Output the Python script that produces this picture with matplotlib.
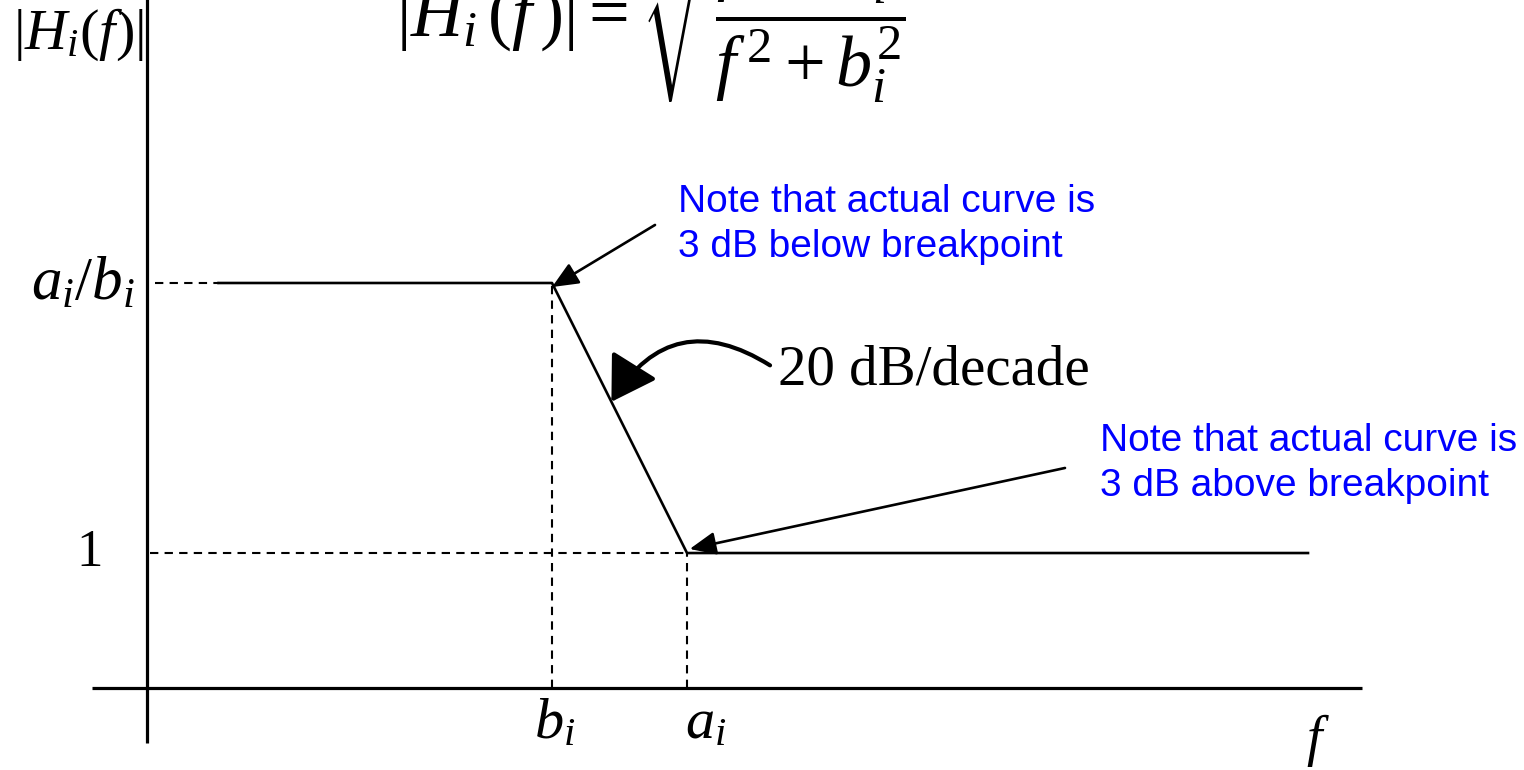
import matplotlib.pyplot as plt

plt.rcParams['mathtext.fontset'] = 'custom'
plt.rcParams['mathtext.rm'] = 'Liberation Serif'
plt.rcParams['mathtext.it'] = 'Liberation Serif:italic'

# Breakpoints and gain levels of the asymptotic magnitude plot
b_i = 3.0
a_i = 4.0
gain_low = 1.0
gain_high = 3.0
f_start = 0.53
f_end = 8.6

asym_f = [f_start, b_i, a_i, f_end]
asym_h = [gain_high, gain_high, gain_low, gain_low]

fig = plt.figure(figsize=(15.24, 7.7), dpi=100)
ax = fig.add_axes([0, 0, 1, 1])
ax.set_xlim(-1.089, 10.2)
ax.set_ylim(-0.607, 5.096)
ax.axis('off')

# axes lines
ax.plot([-0.41, 9.0], [0, 0], color='black', lw=2.3, solid_capstyle='butt')
ax.plot([0, 0], [-0.41, 5.2], color='black', lw=2.3, solid_capstyle='butt')

# asymptotes
ax.plot(asym_f, asym_h, color='black', lw=1.9)

# dashed guide lines
dash = dict(color='black', lw=1.5, dashes=(4, 3))
ax.plot([0.06, f_start], [gain_high, gain_high], **dash)
ax.plot([0.02, a_i], [gain_low, gain_low], **dash)
ax.plot([b_i, b_i], [0, gain_high], **dash)
ax.plot([a_i, a_i], [0, gain_low], **dash)

serif = 'Liberation Serif'
ax.text(-0.99, 4.84, r'$|H_i(f)|$', fontsize=42, family=serif, ha='left', va='center')
ax.text(3.8, 5.09, r'$|H_i\,(f\,)| = \sqrt{\dfrac{f^{\,2} + a_i^2}{f^{\,2} + b_i^2}}$',
        fontsize=52, family=serif, ha='center', va='center')
ax.text(-0.09, gain_high, r'$a_i/b_i$', fontsize=44, ha='right', va='center')
ax.text(-0.33, gain_low, '1', fontsize=38, family=serif, ha='right', va='center')
ax.text(b_i + 0.02, -0.25, r'$b_i$', fontsize=42, ha='center', va='center')
ax.text(a_i + 0.14, -0.25, r'$a_i$', fontsize=42, ha='center', va='center')
ax.text(8.67, -0.39, r'$f$', fontsize=40, ha='center', va='center')

# slope annotation
ax.text(4.674, 2.35, '20 dB/decade', fontsize=41, family=serif, va='center', ha='left')
ax.annotate('', xy=(3.44, 2.12), xytext=(4.615, 2.39),
            arrowprops=dict(arrowstyle='-|>,head_length=0.9,head_width=0.55',
                            mutation_scale=30, color='black', lw=3,
                            shrinkA=0, shrinkB=0,
                            connectionstyle='arc3,rad=0.5'))

# breakpoint notes
blue = '#0000ff'
note_font = dict(fontsize=28, family='Liberation Sans', color=blue,
                 ha='left', va='top', linespacing=1.3)
ax.text(3.93, 3.73, 'Note that actual curve is\n3 dB below breakpoint', **note_font)
ax.annotate('', xy=(b_i, gain_high - 0.03), xytext=(3.763, 3.43),
            arrowprops=dict(arrowstyle='-|>,head_length=0.8,head_width=0.35',
                            mutation_scale=20, color='black', lw=1.9,
                            shrinkA=0, shrinkB=0))
ax.text(7.06, 1.96, 'Note that actual curve is\n3 dB above breakpoint', **note_font)
ax.annotate('', xy=(a_i + 0.02, gain_low + 0.03), xytext=(6.8, 1.63),
            arrowprops=dict(arrowstyle='-|>,head_length=0.8,head_width=0.35',
                            mutation_scale=20, color='black', lw=1.9,
                            shrinkA=0, shrinkB=0))

fig.savefig('out.png', dpi=100)
